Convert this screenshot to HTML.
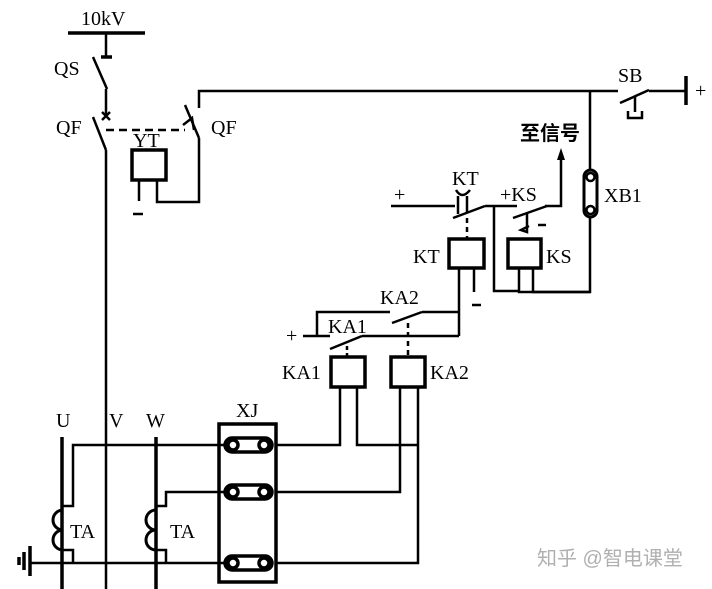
<!DOCTYPE html>
<html><head><meta charset="utf-8"><style>
html,body{margin:0;padding:0;background:#fff;}
svg{display:block;}
text{font-family:"Liberation Serif","Noto Serif CJK SC",serif;fill:#000;font-size:20px;}
.c{font-family:"Liberation Sans","Noto Sans CJK SC",sans-serif;}
</style></head><body>
<svg width="712" height="589" viewBox="0 0 712 589" xmlns="http://www.w3.org/2000/svg">
<g stroke="#000" stroke-width="2.5" fill="none">
<line x1="68" y1="33" x2="145" y2="33" stroke-width="3.5"/>
<line x1="106" y1="33" x2="106" y2="57"/>
<line x1="101" y1="57" x2="112" y2="57" stroke-width="3.5"/>
<line x1="93" y1="57" x2="107" y2="89"/>
<line x1="106" y1="89" x2="106" y2="115"/>
<line x1="102" y1="112" x2="110" y2="120"/><line x1="110" y1="112" x2="102" y2="120"/>
<line x1="93" y1="117" x2="106" y2="150"/>
<line x1="106" y1="150" x2="106" y2="589"/>
<line x1="106" y1="130" x2="185" y2="130" stroke-dasharray="8,5"/>
<rect x="132" y="150" width="34" height="30" stroke-width="3.5"/>
<line x1="139" y1="180" x2="139" y2="201"/>
<line x1="133" y1="214" x2="143" y2="214"/>
<polyline points="157,180 157,202 199,202 199,138"/>
<line x1="185" y1="105" x2="199" y2="138"/>
<polyline points="183,125 192,118 194,130"/>
<polyline points="199,108 199,91 618,91"/>
<line x1="620" y1="103" x2="649" y2="90"/>
<line x1="649" y1="91" x2="686" y2="91"/>
<line x1="686" y1="76" x2="686" y2="105" stroke-width="3.5"/>
<line x1="635" y1="97" x2="635" y2="112"/>
<polyline points="628,111 628,118 642,118 642,111"/>
<line x1="590" y1="91" x2="590" y2="170"/>
<rect x="584" y="170" width="13" height="47" rx="6.5" stroke-width="3"/>
<circle cx="590.5" cy="177" r="4"/><circle cx="590.5" cy="210" r="4"/>
<polyline points="590,217 590,292 519,292 519,268"/>
<polyline points="545,206 561,206 561,155"/>
<line x1="391" y1="206" x2="455" y2="206"/>
<line x1="453" y1="218" x2="485" y2="206"/>
<line x1="485" y1="206" x2="517" y2="206"/>
<path d="M458,196 L458,214 M467,196 L467,212 M456,190 Q462,200 470,190"/>
<line x1="467" y1="218" x2="467" y2="239" stroke-dasharray="5,4"/>
<line x1="513" y1="218" x2="547" y2="206"/>
<polyline points="527,214 527,232 521,230 529,226"/>
<line x1="538" y1="225" x2="546" y2="225"/>
<polyline points="494,206 494,291 519,291"/>
<rect x="449" y="239" width="35" height="29" stroke-width="3.5"/>
<rect x="508" y="239" width="33" height="29" stroke-width="3.5"/>
<polyline points="533,268 533,292 590,292"/>
<line x1="474" y1="268" x2="474" y2="292"/>
<line x1="472" y1="305" x2="481" y2="305"/>
<polyline points="459,268 459,336"/>
<polyline points="317,336 317,312 390,312"/>
<line x1="392" y1="323" x2="422" y2="312"/>
<polyline points="422,312 459,312"/>
<line x1="303" y1="336" x2="330" y2="336"/>
<line x1="330" y1="349" x2="362" y2="336"/>
<line x1="362" y1="336" x2="459" y2="336"/>
<line x1="347" y1="346" x2="347" y2="357" stroke-dasharray="4,3"/>
<line x1="408" y1="323" x2="408" y2="357" stroke-dasharray="5,4"/>
<rect x="331" y="357" width="34" height="30" stroke-width="3.5"/>
<rect x="391" y="357" width="34" height="30" stroke-width="3.5"/>
<polyline points="340,387 340,445 276,445"/>
<polyline points="357,387 357,445 418,445"/>
<polyline points="400,387 400,492 276,492"/>
<polyline points="418,387 418,563 276,563"/>
<rect x="219" y="424" width="57" height="158" stroke-width="3.5"/>
<g stroke-width="3.5">
<rect x="225" y="438" width="47" height="14" rx="7"/>
<rect x="225" y="485" width="47" height="14" rx="7"/>
<rect x="225" y="556" width="47" height="14" rx="7"/>
<circle cx="233" cy="445" r="5"/><circle cx="264" cy="445" r="5"/>
<circle cx="233" cy="492" r="5"/><circle cx="264" cy="492" r="5"/>
<circle cx="233" cy="563" r="5"/><circle cx="264" cy="563" r="5"/>
</g>
<line x1="62" y1="437" x2="62" y2="589" stroke-width="3.5"/>
<line x1="156" y1="437" x2="156" y2="589" stroke-width="3.5"/>
<polyline points="225,445 73,445 73,506 63,506"/>
<polyline points="225,492 166,492 166,506 156,506"/>
<path d="M63,510 A10,10 0 0 0 63,530 A10,10 0 0 0 63,550" stroke-width="3"/>
<path d="M156,510 A10,10 0 0 0 156,530 A10,10 0 0 0 156,550" stroke-width="3"/>
<polyline points="63,550 73,550 73,563"/>
<polyline points="156,550 166,550 166,563"/>
<line x1="30" y1="563" x2="225" y2="563"/>
<line x1="30" y1="546" x2="30" y2="576" stroke-width="3.5"/>
<line x1="24" y1="552" x2="24" y2="570" stroke-width="3.5"/>
<line x1="19" y1="557" x2="19" y2="565" stroke-width="3.5"/>
</g>
<polygon points="561,148 557,160 565,160" fill="#000"/>
<text x="81" y="25">10kV</text>
<text x="54" y="75">QS</text>
<text x="56" y="134">QF</text>
<text x="133" y="147" font-size="16">YT</text>
<text x="211" y="134">QF</text>
<text x="618" y="82">SB</text>
<text x="695" y="97" font-size="16">+</text>
<text x="520" y="140" class="c" font-size="19" font-weight="bold">至信号</text>
<text x="604" y="202">XB1</text>
<text x="452" y="185">KT</text>
<text x="394" y="201" font-size="17">+</text>
<text x="500" y="201">+KS</text>
<text x="413" y="263">KT</text>
<text x="546" y="263">KS</text>
<text x="380" y="304">KA2</text>
<text x="286" y="342" font-size="17">+</text>
<text x="328" y="333">KA1</text>
<text x="282" y="379">KA1</text>
<text x="430" y="379">KA2</text>
<text x="236" y="417">XJ</text>
<text x="56" y="427">U</text>
<text x="109" y="427">V</text>
<text x="146" y="427">W</text>
<text x="70" y="538">TA</text>
<text x="170" y="538">TA</text>
<text x="537" y="565" class="c" font-size="19" style="fill:#b0b0b0">知乎 @智电课堂</text>
</svg>
</body></html>
